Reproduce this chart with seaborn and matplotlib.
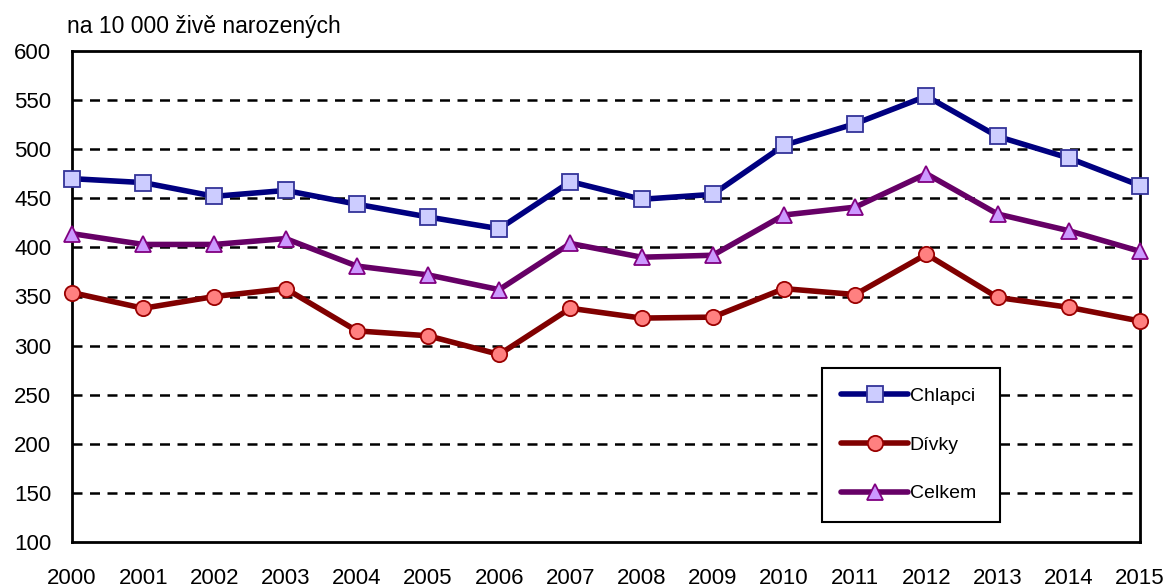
import numpy as np
import pandas as pd
import matplotlib
matplotlib.use("Agg")
import matplotlib.pyplot as plt
import seaborn as sns

# data
years = list(range(2000, 2016))
chlapci = [470, 466, 452, 458, 444, 431, 419, 467, 449, 454, 504, 526, 554, 513, 491, 463]
divky = [354, 338, 350, 358, 315, 310, 291, 338, 328, 329, 358, 352, 393, 349, 339, 325]
celkem = [414, 403, 403, 409, 381, 372, 357, 404, 390, 392, 433, 441, 475, 434, 417, 396]
series_names = ["Chlapci", "Dívky", "Celkem"]
y_ticks = list(range(100, 601, 50))

df = pd.DataFrame({"rok": years, "Chlapci": chlapci, "Dívky": divky, "Celkem": celkem})
long = df.melt(id_vars="rok", var_name="serie", value_name="hodnota")

sns.set_style("white")
plt.rcParams['font.family'] = ['Liberation Sans', 'DejaVu Sans']
plt.rcParams['text.color'] = 'black'
plt.rcParams['xtick.color'] = 'black'
plt.rcParams['ytick.color'] = 'black'

# barvy: (linka, vypln markeru, okraj markeru, marker)
styles = {
    "Chlapci": ("#000080", "#CCCCFF", "#333399", "s"),
    "Dívky": ("#800000", "#FF8080", "#990000", "o"),
    "Celkem": ("#660066", "#CC99FF", "#800080", "^"),
}

fig = plt.figure(figsize=(11.67, 5.88), dpi=100)
ax = fig.add_axes([72 / 1167, 1 - 542 / 588, (1140 - 72) / 1167, (542 - 51) / 588])

for name in series_names:
    line_c, face_c, edge_c, mk = styles[name]
    sns.lineplot(data=long[long["serie"] == name], x="rok", y="hodnota", ax=ax,
                 color=line_c, linewidth=4, marker=mk, markersize=12 if mk != "o" else 11,
                 markerfacecolor=face_c, markeredgecolor=edge_c, markeredgewidth=1.3,
                 label=name, zorder=3, clip_on=False)

ax.set_xlim(2000, 2015)
ax.set_ylim(100, 600)
ax.set_xticks(years)
ax.set_xticklabels([str(y) for y in years], fontsize=16)
ax.set_yticks(y_ticks)
ax.set_yticklabels([str(v) for v in y_ticks], fontsize=16)
ax.set_xlabel("")
ax.set_ylabel("")

for v in y_ticks[1:-1]:
    ax.axhline(v, color="black", linestyle=(0, (4, 3)), linewidth=1.8, zorder=1)

for s in ax.spines.values():
    s.set_color("black")
    s.set_linewidth(2)
    s.set_visible(True)

ax.tick_params(axis="y", direction="inout", length=10, width=2, pad=10)
ax.tick_params(axis="x", direction="out", length=7, width=2, pad=12)

fig.text(67 / 1167, 1 - 26 / 588, "na 10 000 živě narozených", fontsize=16.5, va="center", ha="left")

# legenda: ramecek 822-1000 px, 368-520 px
leg = ax.legend(loc="upper left", bbox_to_anchor=((822 - 72) / 1068, (542 - 368) / 491,
                                                   (1000 - 822) / 1068, 0),
                mode="expand", borderaxespad=0, fontsize=14, frameon=True, fancybox=False,
                framealpha=1, borderpad=1.0, labelspacing=1.6, handlelength=3.4,
                handletextpad=0.1)
leg.get_frame().set_edgecolor("black")
leg.get_frame().set_linewidth(1.5)
leg.set_zorder(5)

fig.savefig("out.png", dpi=100)
